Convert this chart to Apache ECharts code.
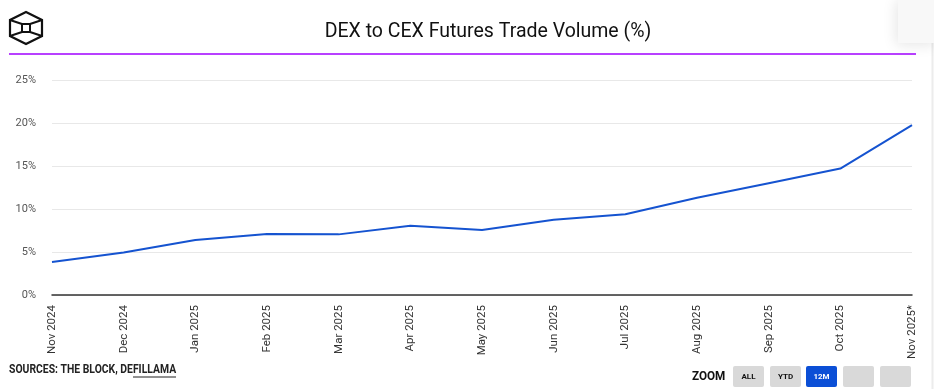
<!DOCTYPE html>
<html>
<head>
<meta charset="utf-8">
<script src="https://cdn.jsdelivr.net/npm/echarts@6/dist/echarts.min.js"></script>
<style>
html,body{margin:0;padding:0;background:#fff;}
#c{width:934px;height:389px;}
</style>
</head>
<body>
<div id="c"></div>
<script>
const categories = ["Nov 2024","Dec 2024","Jan 2025","Feb 2025","Mar 2025","Apr 2025","May 2025","Jun 2025","Jul 2025","Aug 2025","Sep 2025","Oct 2025","Nov 2025*"];
const dexToCexPct = [3.84, 4.95, 6.4, 7.1, 7.05, 8.06, 7.55, 8.75, 9.4, 11.3, 13.0, 14.7, 19.75];
const yTicks = [0, 5, 10, 15, 20, 25];
const titleText = "DEX to CEX Futures Trade Volume (%)";
const sourceText = "SOURCES: THE BLOCK, DEFILLAMA";
const zoomButtons = ["ALL", "YTD", "12M", "", ""];

const chart = echarts.init(document.getElementById('c'), null, {renderer: 'canvas'});

const btnX = [733, 770, 806, 843, 880];
const buttons = zoomButtons.map((label, i) => ({
  type: 'group',
  left: btnX[i], top: 366,
  children: [
    {type: 'rect', shape: {x: 0, y: 0, width: 31, height: 21, r: 2},
     style: {fill: label === '12M' ? '#0b4fd6' : '#d9d9d9'}},
    {type: 'text', style: {x: 15.5, y: 11, text: label, align: 'center', verticalAlign: 'middle',
      fill: label === '12M' ? '#fff' : '#111', font: 'bold 8px Roboto'}}
  ]
}));

chart.setOption({
  animation: false,
  backgroundColor: '#fff',
  title: {
    text: titleText, left: 483, top: 17, textAlign: 'center',
    textStyle: {fontFamily: 'Roboto', fontSize: 19.5, fontWeight: 'normal', color: '#111'}
  },
  grid: {left: 52, right: 22, top: 80, bottom: 94, containLabel: false},
  xAxis: {
    type: 'category', data: categories, boundaryGap: false,
    axisLine: {lineStyle: {color: '#333', width: 1.5}},
    axisTick: {show: false},
    axisLabel: {rotate: 90, margin: 10, fontFamily: 'Roboto', fontSize: 11.5, color: '#333', interval: 0}
  },
  yAxis: {
    type: 'value', min: 0, max: 25, interval: 5,
    axisLabel: {formatter: v => v + '%', margin: 16, fontFamily: 'Roboto', fontSize: 11, color: '#555'},
    splitLine: {lineStyle: {color: '#e8e8e8', width: 1}},
    axisLine: {show: false}, axisTick: {show: false}
  },
  series: [{
    type: 'line', data: dexToCexPct, showSymbol: false, symbol: 'none',
    lineStyle: {color: '#1553d0', width: 2}
  }],
  graphic: [
    // logo
    {type: 'polygon', shape: {points: [[26,12],[42,20],[42,36],[26,44],[10,36],[10,20]]},
     style: {fill: 'none', stroke: '#111', lineWidth: 2.2}},
    {type: 'rect', shape: {x: 22, y: 24, width: 8, height: 8},
     style: {fill: 'none', stroke: '#111', lineWidth: 2}},
    {type: 'line', shape: {x1: 10, y1: 20, x2: 22, y2: 24}, style: {stroke: '#111', lineWidth: 2}},
    {type: 'line', shape: {x1: 42, y1: 20, x2: 30, y2: 24}, style: {stroke: '#111', lineWidth: 2}},
    {type: 'line', shape: {x1: 10, y1: 36, x2: 22, y2: 32}, style: {stroke: '#111', lineWidth: 2}},
    {type: 'line', shape: {x1: 42, y1: 36, x2: 30, y2: 32}, style: {stroke: '#111', lineWidth: 2}},
    // purple rule
    {type: 'line', shape: {x1: 9, y1: 54, x2: 916, y2: 54}, style: {stroke: '#a000ff', lineWidth: 1.6}},
    // right scroll edge
    {type: 'line', shape: {x1: 932.5, y1: 43, x2: 932.5, y2: 389}, style: {stroke: '#ececec', lineWidth: 2}},
    // top-right box
    {type: 'rect', shape: {x: 898, y: -2, width: 40, height: 45},
     style: {fill: '#f8f8f8', shadowBlur: 14, shadowColor: 'rgba(0,0,0,0.10)', shadowOffsetX: -2, shadowOffsetY: 2}},
    // footer
    {type: 'text', x: 9, y: 364, scaleX: 0.865,
     style: {text: sourceText, font: 'bold 12px Roboto', fill: '#222'}},
    {type: 'line', shape: {x1: 133, y1: 377, x2: 176, y2: 377}, style: {stroke: '#222', lineWidth: 1}},
    {type: 'text', x: 692, y: 370, scaleX: 0.9,
     style: {text: 'ZOOM', font: 'bold 13px Roboto', fill: '#111'}},
    ...buttons
  ]
});
</script>
</body>
</html>
